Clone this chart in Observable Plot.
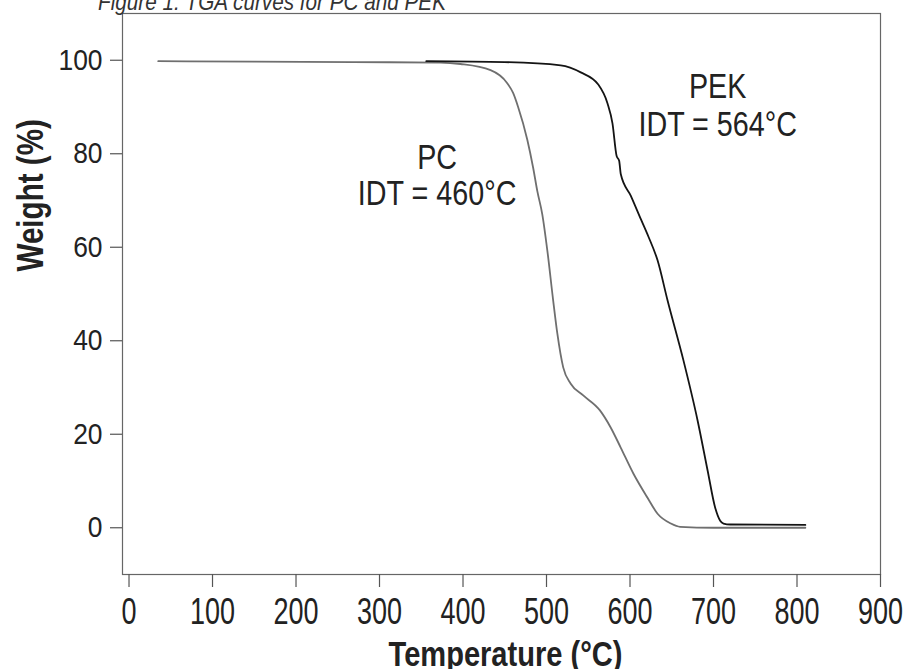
<!DOCTYPE html>
<html>
<head>
<meta charset="utf-8">
<script src="https://cdn.jsdelivr.net/npm/d3@7"></script>
<script src="https://cdn.jsdelivr.net/npm/@observablehq/plot@0.6"></script>
<style>
  body { margin: 0; background: #fff; }
  #chart svg { display: block; }
</style>
</head>
<body>
<div id="chart"></div>
<script>
// ---- data ----
const pcTemp   = [35, 150, 268, 373, 397, 433, 453, 460, 466, 477, 484, 489, 495, 501, 508, 513, 520, 529, 544, 564, 577, 589, 604, 621, 633, 649, 660, 700, 810];
const pcWeight = [99.8, 99.7, 99.6, 99.5, 99.2, 97.9, 95.1, 93, 90, 83, 77, 72, 67, 59.3, 48.6, 41.5, 34.3, 30.8, 28.3, 25.1, 21.4, 17.1, 11.6, 6.4, 3.0, 0.9, 0.2, 0, 0];

const pekTemp   = [356, 450, 517, 541, 562, 573, 579, 584, 587, 589, 601, 613, 622, 633, 645, 664, 681, 693, 702, 708, 712, 720, 810];
const pekWeight = [99.8, 99.6, 98.9, 97.4, 94.8, 90.8, 86.5, 79.5, 78.5, 75.6, 71, 66, 62.3, 57.2, 48.6, 35.8, 22.9, 12.2, 4.3, 1.5, 0.9, 0.7, 0.6];

const xTicks = [0, 100, 200, 300, 400, 500, 600, 700, 800, 900];
const yTicks = [0, 20, 40, 60, 80, 100];

const seriesNames  = ["PC", "PEK"];
const seriesColors = ["#6f6f6f", "#141414"];

// annotation lines (temperature, weight, text)
const labelText = ["PEK", "IDT = 564°C", "PC", "IDT = 460°C"];
const labelTemp = [705, 705, 369, 369];
const labelWeight = [94.3, 86.2, 79.1, 71.5];

const titleText = "Figure 1. TGA curves for PC and PEK";
const xTitle = "Temperature (°C)";
const yTitle = "Weight (%)";

// ---- build tables ----
const rows = [
  ...pcTemp.map((t, i) => ({sample: "PC", t, w: pcWeight[i]})),
  ...pekTemp.map((t, i) => ({sample: "PEK", t, w: pekWeight[i]}))
];
const labels = labelText.map((s, i) => ({s, t: labelTemp[i], w: labelWeight[i]}));

const font = "'Liberation Sans','Arial',sans-serif";

const chart = Plot.plot({
  width: 910,
  height: 669,
  marginLeft: 122,
  marginRight: 30,
  marginTop: 13,
  marginBottom: 95,
  style: {fontFamily: font, color: "#222", background: "#fff", overflow: "visible"},
  x: {domain: [-7.8, 900]},
  y: {domain: [-10, 110]},
  color: {domain: seriesNames, range: seriesColors},
  marks: [
    Plot.frame({stroke: "#666", strokeWidth: 1.2}),
    Plot.axisY({ticks: yTicks, tickSize: 12, tickPadding: 8, fontSize: 30, label: null, stroke: "#555", strokeWidth: 1.2}),
    Plot.axisX({ticks: xTicks, tickSize: 13, tickPadding: 11, fontSize: 36, label: null, stroke: "#555", strokeWidth: 1.2}),
    Plot.line(rows, {x: "t", y: "w", z: "sample", stroke: "sample", strokeWidth: 1.8, curve: "monotone-x"}),
    Plot.text(labels, {x: "t", y: "w", text: "s", fontSize: 35, textAnchor: "middle", lineAnchor: "middle", fill: "#222"}),
    Plot.text([xTitle], {text: d => d, frameAnchor: "bottom", dx: 4, dy: 79.8, fontSize: 35, fontWeight: "bold", lineAnchor: "middle", fill: "#222"}),
    Plot.text([yTitle], {text: d => d, frameAnchor: "left", rotate: -90, dx: -91.6, dy: -22.5, fontSize: 37, fontWeight: "bold", lineAnchor: "middle", fill: "#222"})
  ]
});

d3.select(chart).append("text")
  .attr("class", "fig-title")
  .attr("x", 272)
  .attr("y", 10)
  .attr("font-size", 24)
  .attr("font-style", "italic")
  .attr("fill", "#333")
  .attr("font-family", font)
  .text(titleText);

document.getElementById("chart").appendChild(chart);

// condense the text to mimic the reference's condensed typeface
function condense(selection, factor) {
  selection.each(function () {
    const len = this.getComputedTextLength();
    if (len > 0) {
      this.setAttribute("textLength", (len * factor).toFixed(2));
      this.setAttribute("lengthAdjust", "spacingAndGlyphs");
    }
  });
}
const svg = d3.select(chart);
condense(svg.selectAll('g[aria-label="x-axis tick label"] text'), 0.75);
condense(svg.selectAll('g[aria-label="y-axis tick label"] text'), 0.88);
const textGroups = svg.selectAll('g[aria-label="text"]').nodes();
condense(d3.select(textGroups[0]).selectAll("text"), 0.82);
condense(d3.select(textGroups[1]).selectAll("text"), 0.83);
condense(d3.select(textGroups[2]).selectAll("text"), 0.8);
const t = svg.select("text.fig-title").node();
t.setAttribute("textLength", 348);
t.setAttribute("lengthAdjust", "spacingAndGlyphs");
</script>
</body>
</html>
